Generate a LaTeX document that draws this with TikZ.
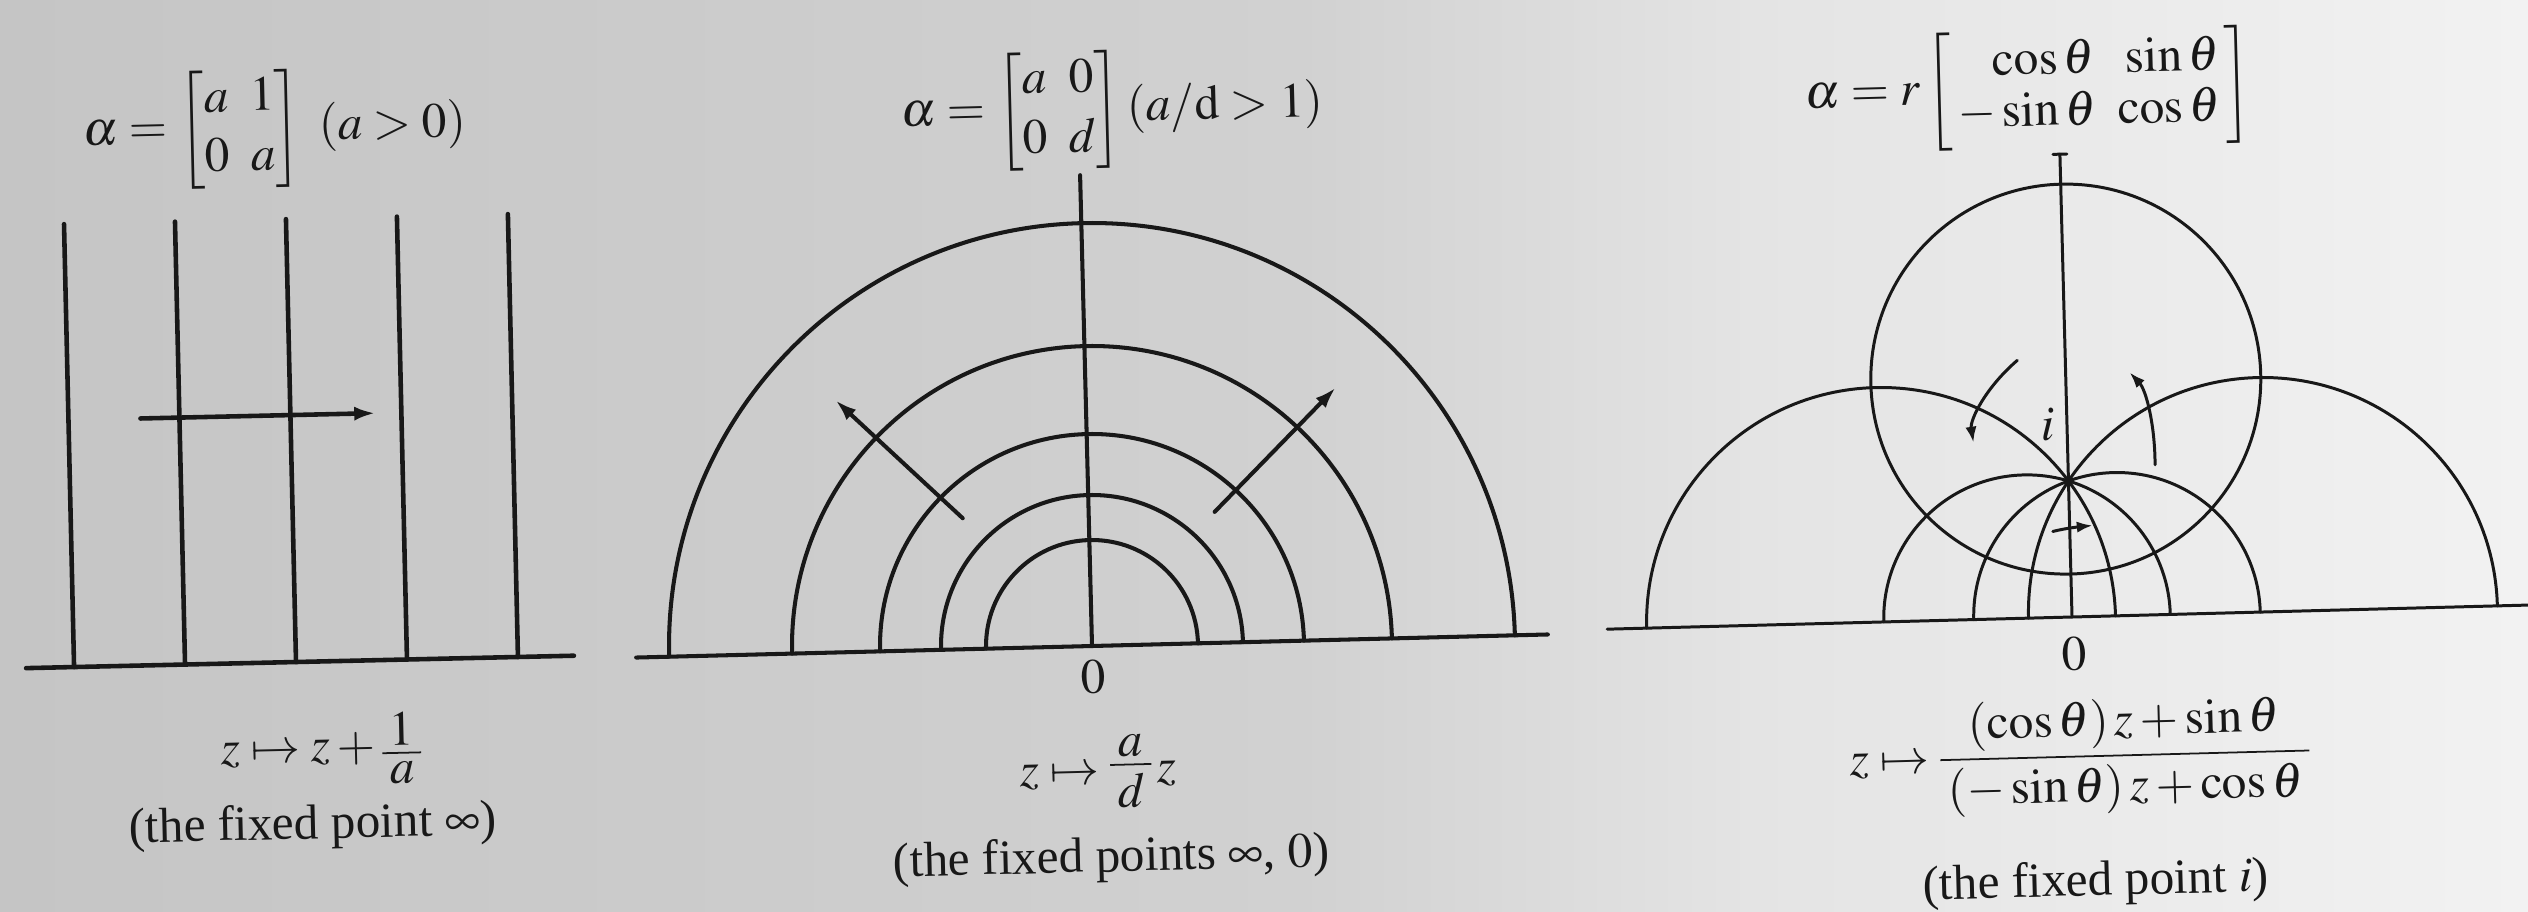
\documentclass[tikz,border=0pt]{standalone}
\usepackage{amsmath}
\usepackage{mathptmx}
\usepackage{fontspec}
\setmainfont{Liberation Serif}
\usetikzlibrary{arrows.meta}
\definecolor{inkc}{RGB}{24,24,24}
\definecolor{bgA}{RGB}{197,197,197}
\definecolor{bgB}{RGB}{209,209,209}
\definecolor{bgC}{RGB}{228,228,228}
\definecolor{bgD}{RGB}{242,242,242}
% tight stacked fraction, as printed in the reference
\newcommand{\tightfr}[2]{\vcenter{\offinterlineskip\halign{\hfil\kern2pt$##$\kern2pt\hfil\cr #1\cr\noalign{\kern2pt\hrule height 0.5pt\kern2.2pt}#2\cr}}}
\newcommand{\lblsetup}{\fontsize{14}{17}\selectfont\thickmuskip=4mu plus 2mu\relax\setlength{\arraycolsep}{3pt}}
\tikzset{
  ink/.style={draw=inkc},
  lbl/.style={font=\lblsetup, text=inkc, inner sep=0pt, transform shape},
  thickL/.style={ink, line width=1.3pt},
  thickM/.style={ink, line width=1.15pt},
  thinR/.style={ink, line width=0.85pt},
  tipbig/.style={-{Latex[length=6pt,width=4pt]}},
  tipsmall/.style={-{Latex[length=4.5pt,width=3.2pt]}},
}
\begin{document}
\begin{tikzpicture}[x=0.01cm, y=0.01cm, line cap=round]
\useasboundingbox (0,0) rectangle (2528,911);
\shade[left color=bgA, right color=bgB] (0,0) rectangle (1301,911);
\shade[left color=bgB, right color=bgC] (1300,0) rectangle (1751,911);
\shade[left color=bgC, right color=bgD] (1750,0) rectangle (2528,911);

% ---------- left panel: parabolic ----------
\begin{scope}[shift={(296,249)}, rotate=1.3]
  \draw[thickL] (-270,0) -- (278,0);
  \foreach \x in {-222,-111,0,111,222} \draw[thickL] (\x,0) -- (\x,443);
  \draw[thickL, tipbig] (-150,247) -- (85,247);
  \node[lbl] (Lmat) at (-9,534) {$\alpha = \begin{bmatrix} a & 1\\ 0 & a\end{bmatrix}\ (a>0)$};
  \node[lbl] (Lmap) at (23,-88) {$z \mapsto z + \tightfr{1}{a}$};
  \node[lbl] (Lfix) at (13,-165) {(the fixed point $\infty$)};
\end{scope}

% ---------- middle panel: hyperbolic ----------
\begin{scope}[shift={(1092,265)}, rotate=1.45]
  \draw[thickM] (-456,0) -- (456,0);
  \draw[thickM] (0,0) -- (0,471);
  \foreach \r in {423,300,212,151,106}
    \draw[thickM] (\r,0) arc[start angle=0, end angle=180, radius=\r];
  \draw[thickM, tipbig] (-126,131) -- (-250,252);
  \draw[thickM, tipbig] (126,131) -- (250,252);
  \node[lbl] (Mmat) at (34,536) {$\alpha = \begin{bmatrix} a & 0\\ 0 & d\end{bmatrix} (a/\mathrm{d} > 1)$};
  \node[lbl] (Mzero) at (1,-31) {$0$};
  \node[lbl] (Mmap) at (3,-126) {$z \mapsto \tightfr{a}{d}\, z$};
  \node[lbl] (Mfix) at (14,-214) {(the fixed points $\infty$, $0$)};
\end{scope}

% ---------- right panel: elliptic ----------
\begin{scope}[shift={(2072,294)}, rotate=1.5]
  \draw[thinR] (-465,0) -- (460,0);
  \draw[thinR] (0,0) -- (0,463);
  \draw[thinR] (-7,463) -- (7,463);
  \draw[thinR] (0,238) circle[radius=195];
  \foreach \c/\R in {-191/234.5, 191/234.5, -45/143.3, 45/143.3}
    \draw[thinR] (\c+\R,0) arc[start angle=0, end angle=180, radius=\R];
  \draw[thinR, tipsmall] (-48,258) .. controls (-80,232) and (-97,200) .. (-94,177);
  \draw[thinR, tipsmall] (87,150) .. controls (88,190) and (80,225) .. (64,243);
  \draw[thinR, tipsmall] (-17,86) .. controls (-4,89) and (10,90) .. (23,91);
  \node[lbl] (Ri) at (-19,193) {$i$};
  \node[lbl] (Rzero) at (1,-37) {$0$};
  \node[lbl] (Rmat) at (-30,528) {$\def\arraystretch{0.86}\alpha = r\left[\begin{array}{@{\,}r@{\;\;}r@{\,}} \cos\theta & \sin\theta\\ -\sin\theta & \cos\theta\end{array}\right]$};
  \node[lbl] (Rmap) at (4,-140) {$z \mapsto \tightfr{(\cos\theta)\,z + \sin\theta}{(-\sin\theta)\,z + \cos\theta}$};
  \node[lbl] (Rfix) at (17,-267) {(the fixed point $i$)};
\end{scope}
\end{tikzpicture}
\end{document}
